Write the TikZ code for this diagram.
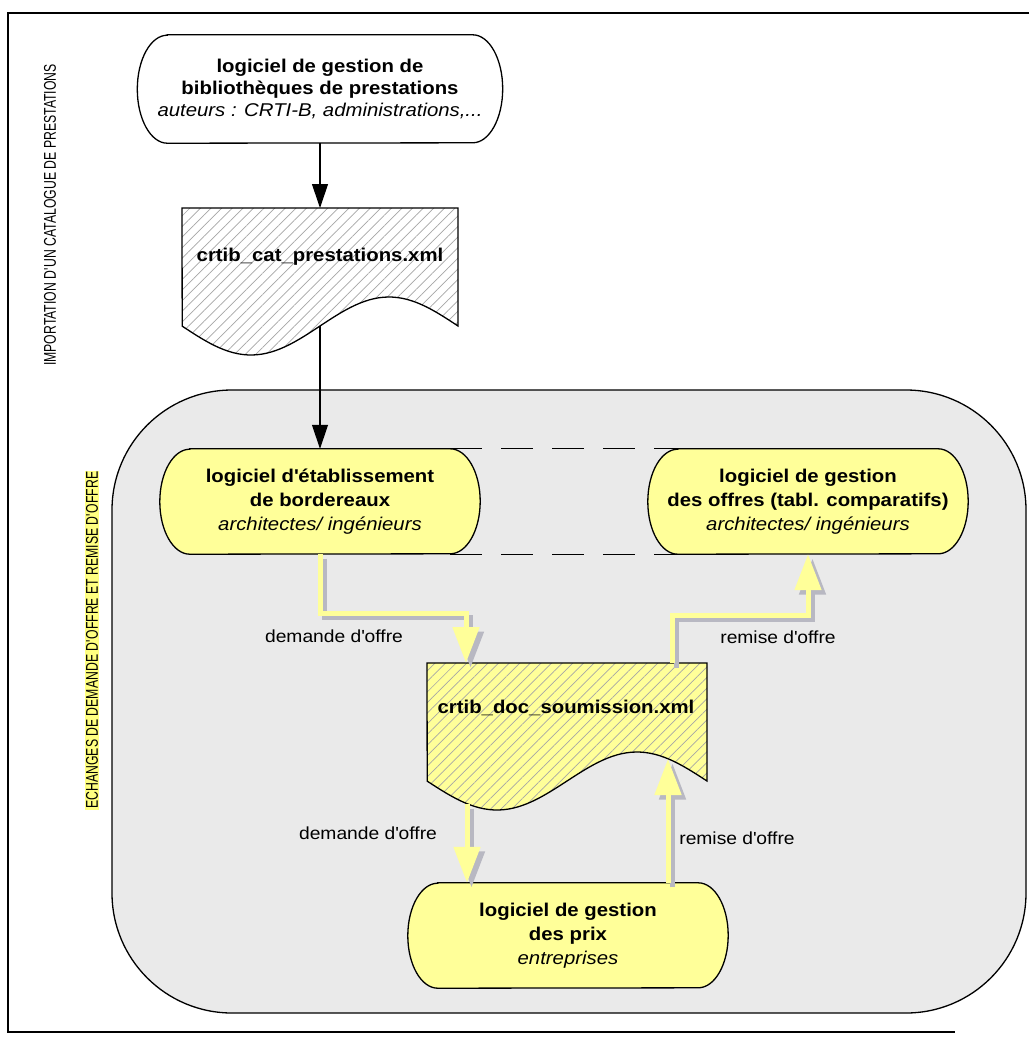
\documentclass[tikz,border=0pt]{standalone}
\usepackage{fontspec}
\usepackage{graphicx}
\setmainfont{Liberation Sans}[FakeStretch=1.1]
\newfontfamily\condfont{Liberation Sans}[FakeStretch=0.72]
\usetikzlibrary{arrows.meta,patterns.meta,calc}
\definecolor{nodeyellow}{HTML}{FFFF99}
\definecolor{boxgray}{HTML}{EAEAEA}
\definecolor{shadowgray}{HTML}{B8B8C2}
\definecolor{hatchgray}{HTML}{A6A6A6}
\definecolor{hlyellow}{HTML}{FFFF80}
\newcommand\q{\textquotesingle}
\pgfdeclarelayer{canvasbg}\pgfdeclarelayer{back}\pgfdeclarelayer{mid}\pgfsetlayers{canvasbg,back,mid,main}
\newcommand\drawterm[3]{%
  \draw[line width=1.3pt,fill=#2] ([xshift=30pt]#1.north west) -- ([xshift=-30pt]#1.north east)
    arc[start angle=90,end angle=-90,x radius=30pt,y radius=#3]
    -- ([xshift=30pt]#1.south west)
    arc[start angle=270,end angle=90,x radius=30pt,y radius=#3] -- cycle;}
\tikzset{
  proc/.style={draw=none, minimum width=320pt, minimum height=105pt, inner sep=0pt,
    align=center, font=\fontsize{18.5}{24}\selectfont},
  doctxt/.style={inner sep=0pt, font=\bfseries\fontsize{18.5}{22}\selectfont},
  lbl/.style={inner sep=0pt, font=\fontsize{17.5}{20}\selectfont},
  docline/.style={line width=1.3pt,
    preaction={fill=#1},
    pattern={Lines[angle=45,distance=7.5pt,line width=0.7pt]}, pattern color=hatchgray},
  blk/.style={line width=1.1pt, -{Triangle[length=24pt,width=16pt]}},
  yel/.style={line width=5pt, draw=nodeyellow, -{Triangle[length=36pt,width=26pt]}},
  yelshadow/.style={line width=5pt, draw=shadowgray, -{Triangle[length=36pt,width=26pt]},
    transform canvas={xshift=4.5pt,yshift=-4.5pt}},
  dsh/.style={line width=1.3pt, dash pattern=on 32pt off 19pt},
  vtext/.style={rotate=90, inner sep=1pt, font=\condfont\fontsize{17}{17}\selectfont}
}
\begin{document}
\begin{tikzpicture}[x=1pt,y=-1pt]
\useasboundingbox (0,0) rectangle (1029,1045);
\begin{pgfonlayer}{canvasbg}
\fill[white] (0,0) rectangle (1029,1045);
\end{pgfonlayer}
% frame
\draw[line width=1.3pt] (1029,13) -- (8,13) -- (8,1032) -- (955,1032);
% grey area
\begin{pgfonlayer}{back}
\draw[line width=1.3pt, fill=boxgray, rounded corners=120pt] (112,390) rectangle (1026,1013);
\end{pgfonlayer}
% side titles
\node[vtext] (t1) at (50,215) {IMPORTATION D\q UN CATALOGUE DE PRESTATIONS};
\node[vtext, fill=hlyellow] (t2) at (92,640) {ECHANGES DE DEMANDE D\q OFFRE ET REMISE D\q OFFRE};
% process nodes
\node[proc, minimum width=365pt, minimum height=108pt, font=\fontsize{18.5}{22}\selectfont] (top) at (320,89)
  {\textbf{logiciel de gestion de}\\\textbf{bibliothèques de prestations}\\\textit{auteurs : CRTI-B, administrations,...}};
\node[proc] (bord) at (320,501.5)
  {\textbf{logiciel d\q établissement}\\\textbf{de bordereaux}\\\textit{architectes/ ingénieurs}};
\node[proc] (offres) at (808,501.5)
  {\textbf{logiciel de gestion}\\\textbf{des offres (tabl. comparatifs)}\\\textit{architectes/ ingénieurs}};
\node[proc] (prix) at (568,935.5)
  {\textbf{logiciel de gestion}\\\textbf{des prix}\\\textit{entreprises}};
\begin{pgfonlayer}{mid}
\drawterm{top}{white}{54pt}
\drawterm{bord}{nodeyellow}{52.5pt}
\drawterm{offres}{nodeyellow}{52.5pt}
\drawterm{prix}{nodeyellow}{52.5pt}
\end{pgfonlayer}
% dashed links
\draw[dsh] ([xshift=-30pt]bord.north east) -- ([xshift=30pt]offres.north west);
\draw[dsh] ([xshift=-30pt]bord.south east) -- ([xshift=30pt]offres.south west);
% documents
\draw[docline=white] (182,208) -- (458,208) -- (458,326)
  -- plot[domain=1:0,samples=60] ({182+276*\x},{208+118+29*sin(360*\x)}) -- cycle;
\node[doctxt] (cat) at (320,257) {crtib\_cat\_prestations.xml};
\draw[docline=nodeyellow] (427,663) -- (707,663) -- (707,781)
  -- plot[domain=1:0,samples=60] ({427+280*\x},{663+118+29*sin(360*\x)}) -- cycle;
\node[doctxt] (soum) at (566,708) {crtib\_doc\_soumission.xml};
\coordinate (cattop) at (320,208);
\coordinate (catbot) at (320,326);
\coordinate (sin1) at (466,663);
\coordinate (sout1) at (672,663);
\coordinate (sout2) at (467,804);
\coordinate (sin2) at (668,759);
% black arrows
\draw[blk] (top.south) -- (cattop);
\draw[blk] (catbot) -- (bord.north);
% yellow arrows: shadows
\draw[yelshadow] (bord.south) -- ++(0,59) -| (sin1);
\draw[yelshadow] (sout1) -- ++(0,-48) -| (offres.south);
\draw[yelshadow] (sout2) -- (sout2 |- prix.north);
\draw[yelshadow] (sin2 |- prix.north) -- (sin2);
% yellow arrows
\draw[yel] (bord.south) -- ++(0,59) -| (sin1);
\draw[yel] (sout1) -- ++(0,-48) -| (offres.south);
\draw[yel] (sout2) -- (sout2 |- prix.north);
\draw[yel] (sin2 |- prix.north) -- (sin2);
% labels
\node[lbl] (l1) at (334,636) {demande d\q offre};
\node[lbl] (l2) at (778,637) {remise d\q offre};
\node[lbl] (l3) at (368,833) {demande d\q offre};
\node[lbl] (l4) at (737,838) {remise d\q offre};
\end{tikzpicture}
\end{document}
